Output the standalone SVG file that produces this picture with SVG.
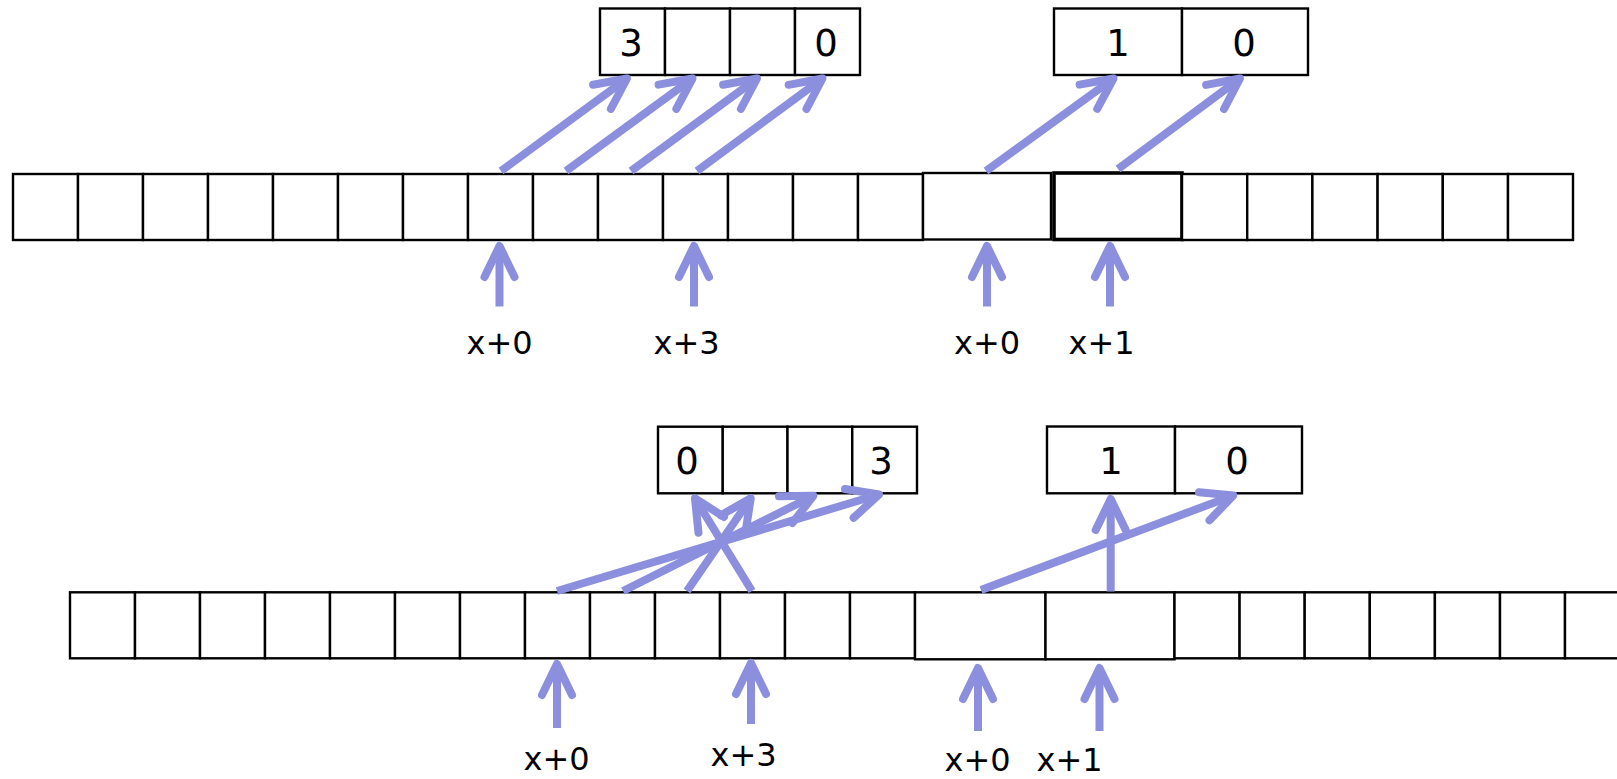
<svg xmlns="http://www.w3.org/2000/svg" width="1617" height="779" viewBox="0 0 1617 779">
<style>
.c{fill:#fff;stroke:#000;stroke-width:2.4}
.w{fill:#fff;stroke:#000;stroke-width:3.6}
.t{font-family:"DejaVu Sans","Verdana",sans-serif;font-size:37px;fill:#000;text-anchor:middle}
.l{font-family:"DejaVu Sans","Verdana",sans-serif;font-size:32px;fill:#000;text-anchor:middle}
.a{fill:none;stroke:#8b8fdd;stroke-width:8;stroke-linecap:butt;marker-end:url(#ah)}
</style>
<defs>
<marker id="ah" markerUnits="userSpaceOnUse" orient="auto" overflow="visible" markerWidth="1" markerHeight="1" refX="0" refY="0">
<path d="M-31,-15 L0,0 L-31,15" fill="none" stroke="#8b8fdd" stroke-width="8" stroke-linecap="round" stroke-linejoin="round"/>
</marker>
</defs>
<rect x="0" y="0" width="1617" height="779" fill="#fff"/>

<g id="top-memory">
<rect class="c" x="13" y="174" width="65" height="66"/>
<rect class="c" x="78" y="174" width="65" height="66"/>
<rect class="c" x="143" y="174" width="65" height="66"/>
<rect class="c" x="208" y="174" width="65" height="66"/>
<rect class="c" x="273" y="174" width="65" height="66"/>
<rect class="c" x="338" y="174" width="65" height="66"/>
<rect class="c" x="403" y="174" width="65" height="66"/>
<rect class="c" x="468" y="174" width="65" height="66"/>
<rect class="c" x="533" y="174" width="65" height="66"/>
<rect class="c" x="598" y="174" width="65" height="66"/>
<rect class="c" x="663" y="174" width="65" height="66"/>
<rect class="c" x="728" y="174" width="65" height="66"/>
<rect class="c" x="793" y="174" width="65" height="66"/>
<rect class="c" x="858" y="174" width="65" height="66"/>
<rect class="c" x="923" y="173" width="128" height="66.5"/>
<rect class="w" x="1054" y="173" width="128" height="66.5"/>
<rect class="c" x="1182" y="174" width="65.2" height="66"/>
<rect class="c" x="1247.2" y="174" width="65.2" height="66"/>
<rect class="c" x="1312.4" y="174" width="65.2" height="66"/>
<rect class="c" x="1377.6" y="174" width="65.2" height="66"/>
<rect class="c" x="1442.8" y="174" width="65.2" height="66"/>
<rect class="c" x="1508" y="174" width="65" height="66"/>
</g>

<g id="top-int">
<rect class="c" x="600" y="8.5" width="65" height="66.5"/>
<rect class="c" x="665" y="8.5" width="65" height="66.5"/>
<rect class="c" x="730" y="8.5" width="65" height="66.5"/>
<rect class="c" x="795" y="8.5" width="65" height="66.5"/>
<text class="t" x="631" y="56">3</text>
<text class="t" x="826" y="56">0</text>
</g>

<g id="top-short">
<rect class="c" x="1054" y="8.5" width="128" height="66.5"/>
<rect class="c" x="1182" y="8.5" width="126" height="66.5"/>
<text class="t" x="1118" y="56">1</text>
<text class="t" x="1244" y="56">0</text>
</g>

<g id="bottom-memory">
<rect class="c" x="70" y="592.3" width="65" height="66"/>
<rect class="c" x="135" y="592.3" width="65" height="66"/>
<rect class="c" x="200" y="592.3" width="65" height="66"/>
<rect class="c" x="265" y="592.3" width="65" height="66"/>
<rect class="c" x="330" y="592.3" width="65" height="66"/>
<rect class="c" x="395" y="592.3" width="65" height="66"/>
<rect class="c" x="460" y="592.3" width="65" height="66"/>
<rect class="c" x="525" y="592.3" width="65" height="66"/>
<rect class="c" x="590" y="592.3" width="65" height="66"/>
<rect class="c" x="655" y="592.3" width="65" height="66"/>
<rect class="c" x="720" y="592.3" width="65" height="66"/>
<rect class="c" x="785" y="592.3" width="65" height="66"/>
<rect class="c" x="850" y="592.3" width="65" height="66"/>
<rect class="c" x="915" y="592.3" width="130.5" height="67"/>
<rect class="c" x="1045.5" y="592.3" width="129" height="67"/>
<rect class="c" x="1174.5" y="592.3" width="65.1" height="66"/>
<rect class="c" x="1239.6" y="592.3" width="65.1" height="66"/>
<rect class="c" x="1304.7" y="592.3" width="65.1" height="66"/>
<rect class="c" x="1369.8" y="592.3" width="65.1" height="66"/>
<rect class="c" x="1434.9" y="592.3" width="65.1" height="66"/>
<rect class="c" x="1500" y="592.3" width="65" height="66"/>
<rect class="c" x="1565" y="592.3" width="65" height="66"/>
</g>

<g id="bottom-int">
<rect class="c" x="658" y="426.7" width="64.75" height="66.6"/>
<rect class="c" x="722.75" y="426.7" width="64.75" height="66.6"/>
<rect class="c" x="787.5" y="426.7" width="64.75" height="66.6"/>
<rect class="c" x="852.25" y="426.7" width="64.75" height="66.6"/>
<text class="t" x="687" y="474">0</text>
<text class="t" x="881" y="474">3</text>
</g>

<g id="bottom-short">
<rect class="c" x="1047" y="426.5" width="128" height="66.8"/>
<rect class="c" x="1175" y="426.5" width="127" height="66.8"/>
<text class="t" x="1111" y="474">1</text>
<text class="t" x="1237" y="474">0</text>
</g>

<g id="labels">
<text class="l" x="499.5" y="354">x+0</text>
<text class="l" x="686.5" y="354">x+3</text>
<text class="l" x="987" y="354">x+0</text>
<text class="l" x="1101.5" y="354">x+1</text>
<text class="l" x="556.5" y="770">x+0</text>
<text class="l" x="743.5" y="766">x+3</text>
<text class="l" x="977.5" y="771">x+0</text>
<text class="l" x="1069.5" y="771">x+1</text>
</g>

<g id="connectors">
<line class="a" x1="501" y1="171" x2="627" y2="78.5"/>
<line class="a" x1="566" y1="171" x2="692.5" y2="78.5"/>
<line class="a" x1="631" y1="171" x2="757" y2="78.5"/>
<line class="a" x1="697" y1="171" x2="822.5" y2="78.5"/>
<line class="a" x1="986" y1="171" x2="1113.5" y2="78.5"/>
<line class="a" x1="1118" y1="169" x2="1240" y2="78.5"/>
<line class="a" x1="499.5" y1="306.5" x2="499.5" y2="246"/>
<line class="a" x1="694" y1="306.5" x2="694" y2="246"/>
<line class="a" x1="987" y1="306.5" x2="987" y2="246"/>
<line class="a" x1="1110" y1="306.5" x2="1110" y2="246"/>

<line class="a" x1="557" y1="591" x2="879" y2="494.5"/>
<line class="a" x1="623" y1="591" x2="813.4" y2="495.8"/>
<line class="a" x1="687" y1="591" x2="750.7" y2="498.3"/>
<line class="a" x1="752" y1="591" x2="695" y2="498.4"/>
<line class="a" x1="981" y1="590" x2="1233.3" y2="495.4"/>
<line class="a" x1="1110.7" y1="591.5" x2="1110.7" y2="499"/>
<line class="a" x1="557" y1="728" x2="557" y2="664"/>
<line class="a" x1="751" y1="724" x2="751" y2="663"/>
<line class="a" x1="978" y1="731" x2="978" y2="668"/>
<line class="a" x1="1099.5" y1="731" x2="1099.5" y2="668"/>
</g>
</svg>
